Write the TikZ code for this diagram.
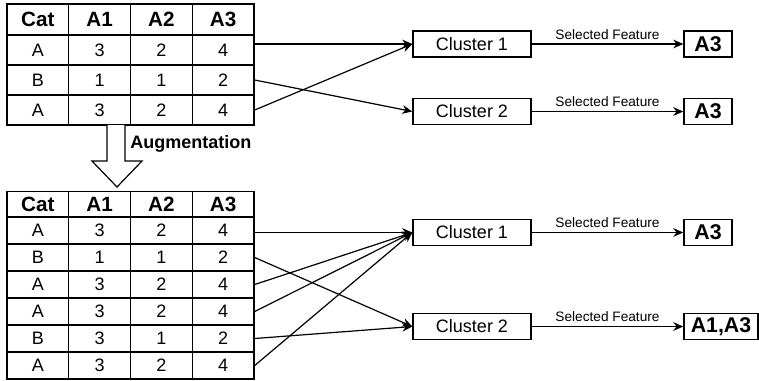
\documentclass[tikz,border=0pt]{standalone}
\usepackage{fontspec}
\setmainfont{Liberation Sans}
\usetikzlibrary{arrows.meta}

\begin{document}
\begin{tikzpicture}[x=0.75pt,y=-0.75pt,
	cell/.style={draw,line width=1.1pt,minimum width=46.3pt,inner sep=0pt,font=\fontsize{13.5}{15}\selectfont},
	head/.style={cell,font=\fontsize{15.5}{18}\selectfont\bfseries},
	box/.style={draw,line width=1.1pt,minimum width=88.5pt,minimum height=19.5pt,inner sep=0pt,font=\fontsize{13.5}{16}\selectfont},
	feat/.style={draw,line width=1.1pt,minimum height=19.5pt,inner sep=2pt,font=\fontsize{16}{19}\selectfont\bfseries},
	arr/.style={-{Stealth[length=7.5pt,width=6.5pt]},line width=0.9pt},
	lbl/.style={above,inner sep=3pt,font=\fontsize{10.25}{12}\selectfont}]
			\useasboundingbox (0,0) rectangle (759,380);
			% first table
			\foreach \h [count=\c] in {Cat,A1,A2,A3}
				\node[head,minimum height=23.25pt] (top-0-\c) at ({7+61.75*(\c-0.5)},19.5) {\h};
			\foreach \row [count=\r] in {{A,3,2,4},{B,1,1,2},{A,3,2,4}}
				\foreach \v [count=\c] in \row
					\node[cell,minimum height=22.5pt] (top-\r-\c) at ({7+61.75*(\c-0.5)},{35+30*(\r-0.5)}) {\v};
			% augmented table
			\foreach \h [count=\c] in {Cat,A1,A2,A3}
				\node[head,minimum height=19.1pt] (bot-0-\c) at ({7+61.75*(\c-0.5)},204.25) {\h};
			\foreach \row [count=\r] in {{A,3,2,4},{B,1,1,2},{A,3,2,4},{A,3,2,4},{B,3,1,2},{A,3,2,4}}
				\foreach \v [count=\c] in \row
					\node[cell,minimum height=20.25pt] (bot-\r-\c) at ({7+61.75*(\c-0.5)},{217+27*(\r-0.5)}) {\v};
			% augmentation arrow
			\draw[line width=0.9pt,fill=white] (107,125) -- (107,161) -- (92,161) -- (117,187) -- (142,161) -- (125,161) -- (125,125);
			\node[anchor=west,inner sep=0pt,font=\fontsize{13.5}{16}\selectfont\bfseries] (aug) at (130,144) {Augmentation};
			% clusters
			\node[box] (tc1) at (472,44) {Cluster 1};
			\node[box] (tc2) at (472,111.5) {Cluster 2};
			\node[feat,minimum width=36pt] (tf1) at (708,44) {A3};
			\node[feat,minimum width=36pt] (tf2) at (708,111.5) {A3};
			\node[box] (bc1) at (472,232.5) {Cluster 1};
			\node[box] (bc2) at (472,326.5) {Cluster 2};
			\node[feat,minimum width=36pt] (bf1) at (708,232.5) {A3};
			\node[feat,minimum width=55.5pt] (bf2) at (721,326.5) {A1,A3};
			% connections
			\draw[arr] (tc1.west -| top-1-4.east) -- (tc1.west);
			\draw[arr] (top-2-4.east) -- (tc2.west);
			\draw[arr] (top-3-4.east) -- (tc1.west);
			\draw[arr] (tc1) -- node[lbl] {Selected Feature} (tf1);
			\draw[arr] (tc2) -- node[lbl] {Selected Feature} (tf2);
			\draw[arr] (bc1.west -| bot-1-4.east) -- (bc1.west);
			\draw[arr] (bot-2-4.east) -- (bc2.west);
			\draw[arr] (bot-3-4.east) -- (bc1.west);
			\draw[arr] (bot-4-4.east) -- (bc1.west);
			\draw[arr] (bot-5-4.east) -- (bc2.west);
			\draw[arr] (bot-6-4.east) -- (bc1.west);
			\draw[arr] (bc1) -- node[lbl] {Selected Feature} (bf1);
			\draw[arr] (bc2) -- node[lbl] {Selected Feature} (bf2);
		\end{tikzpicture}
\end{document}
